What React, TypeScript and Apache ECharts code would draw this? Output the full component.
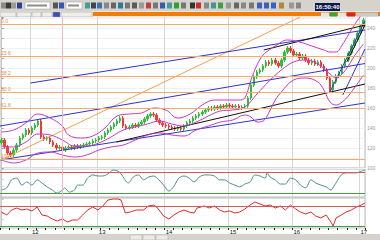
import React, { useEffect, useRef } from "react";
import * as echarts from "echarts";

// ---- data ----
const closes = [
  128, 121, 115, 113, 118, 123, 130, 133, 138, 135, 140, 143, 147, 131, 129, 130, 126, 123, 120, 121,
  118, 120, 121, 120, 122, 121, 122, 123, 124, 125, 127, 128, 130, 131, 135, 138, 141, 144, 147, 150,
  142, 140, 141, 143, 142, 144, 146, 149, 152, 154, 153, 148, 145, 143, 142, 141, 140, 139, 140, 139,
  142, 145, 147, 150, 152, 154, 156, 158, 160, 159, 161, 160, 162, 161, 163, 162, 161, 162, 160, 161,
  162, 170, 183, 191, 196, 198, 202, 206, 204, 208, 205, 202, 208, 216, 220, 217, 213, 214, 210, 212,
  208, 205, 207, 204, 206, 202, 198, 190, 178, 186, 192, 195, 202, 208, 215, 222, 228, 235, 242, 248,
];

const bbUpper = [
  [0, 136], [4, 138], [8, 145], [12, 154], [16, 150], [20, 142], [22, 133], [26, 130], [30, 132], [34, 140],
  [38, 152], [42, 154], [46, 155], [50, 160], [54, 158], [58, 150], [62, 154], [66, 163], [70, 168], [74, 168],
  [78, 168], [80, 170], [82, 188], [84, 203], [86, 213], [88, 218], [90, 222], [94, 228], [98, 226], [102, 222],
  [106, 218], [108, 216], [110, 216], [112, 223], [114, 233], [116, 243], [119, 256],
];
const bbMiddle = [
  [0, 122], [4, 121], [8, 126], [12, 134], [16, 133], [20, 128], [24, 122], [28, 122], [32, 125], [36, 131],
  [40, 138], [44, 141], [48, 144], [52, 147], [56, 144], [60, 142], [64, 146], [68, 152], [72, 157], [76, 158],
  [80, 161], [84, 174], [88, 187], [92, 198], [96, 206], [100, 208], [104, 204], [108, 194], [110, 190], [112, 194],
  [114, 202], [116, 212], [119, 224],
];
const bbLower = [
  [0, 108], [4, 105], [8, 108], [12, 115], [16, 116], [20, 113], [24, 111], [28, 113], [32, 118], [36, 121],
  [40, 123], [44, 128], [48, 133], [52, 135], [56, 133], [60, 132], [64, 138], [68, 142], [72, 146], [76, 148],
  [80, 153], [82, 151], [84, 146], [86, 147], [88, 156], [90, 168], [92, 176], [96, 188], [100, 190], [104, 186],
  [106, 178], [108, 166], [110, 163], [112, 166], [114, 172], [116, 180], [119, 193],
];

const oscA = [
  [0, 30], [1.7, 36], [3.3, 59], [5, 64], [6.7, 44], [8.3, 53], [10, 44], [11.7, 59], [13.3, 50], [15, 39],
  [16.7, 30], [18.3, 21], [20, 30], [20.7, 36], [22.3, 24], [24, 30], [25, 44], [26.7, 44], [28.3, 64], [30, 73],
  [31.7, 70], [33.3, 70], [35, 76], [36.7, 87], [38.3, 84], [39.3, 76], [41.7, 50], [43.3, 67], [45, 73], [46.7, 59],
  [48.3, 67], [50, 70], [51.7, 59], [53.3, 44], [55, 27], [56.7, 41], [58.3, 64], [60, 70], [61.7, 64], [63.3, 53],
  [65, 67], [66.7, 73], [68.3, 73], [70, 70], [71.7, 59], [73.3, 59], [75, 50], [76.7, 44], [78.3, 39], [80, 47],
  [81.7, 53], [83.3, 73], [85, 70], [86.7, 64], [87.3, 79], [88.3, 67], [90, 59], [91.7, 47], [93.3, 47], [95, 64],
  [96.7, 59], [98.3, 44], [100, 36], [101.7, 59], [103.3, 50], [105, 44], [106.7, 39], [108.3, 30], [109.3, 41], [111.7, 73],
  [113.3, 79], [115, 79], [116.7, 79], [118.3, 84], [119.5, 87],
];
const oscB = [
  [0, 63], [1.7, 54], [3.3, 69], [5, 75], [6.7, 69], [8.3, 72], [10, 66], [11.7, 78], [12.3, 69], [13.3, 54],
  [15, 51], [16.7, 42], [18.3, 36], [20, 42], [21.7, 33], [23.3, 39], [25, 39], [26.7, 54], [28.3, 69], [30, 78],
  [31.7, 69], [33.3, 81], [35, 99], [36.7, 102], [38.3, 102], [39.3, 99], [40.7, 60], [42.3, 63], [44.3, 69], [46.7, 69],
  [48.3, 81], [50, 84], [51, 78], [52.3, 63], [53.3, 51], [55, 42], [56.7, 54], [58.3, 63], [60, 69], [61.7, 63],
  [63.3, 60], [64.3, 75], [66.7, 81], [68.3, 75], [70, 81], [71.7, 69], [73.3, 63], [75, 66], [76.7, 60], [78.3, 63],
  [80, 72], [81.7, 84], [83.3, 93], [85, 87], [86.7, 81], [88.3, 84], [90, 75], [91.7, 81], [93.3, 69], [95, 84],
  [96.7, 72], [98.3, 63], [100, 57], [101.7, 63], [103.3, 51], [105, 45], [106.7, 54], [108.3, 33], [109, 21], [110, 45],
  [111.7, 54], [113.3, 63], [115, 69], [116.7, 78], [118.3, 84], [119.5, 90],
];

const fibLevels = [244, 212, 192, 176, 160, 109];
const fibLabels = ["0.0", "23.6", "38.2", "50.0", "61.8", "100.0"];
const yearIndex = [10, 32, 54, 75, 96, 118];
const yearLabels = ["12", "13", "14", "15", "16", "17"];
const blueLines = [
  [[9.5, 185], [119.5, 238]],
  [[-0.5, 142], [119.5, 204.5]],
  [[-0.5, 108], [119.5, 165]],
  [[107.8, 175], [119.5, 247]],
  [[112.2, 173], [119.5, 219]],
];
const blackLines = [
  [[37.8, 126], [119.5, 184]],
  [[86.2, 218], [119.5, 243]],
  [[113.5, 206], [119.5, 243]],
];
const orangeLines = [[[1.2, 110], [98.2, 251]]];
const cursorIndex = 20;
const oscLevels = [80, 20];
const timeText = "16:50:40";

const toolbarIcons: [number, string][] = [
  [1, "#8a8a8a"], [6, "#3a3a3a"], [11, "#9a9a9a"], [17, "#2c3f8c"], [53, "#555"], [59, "#3555b0"],
  [85, "#4a9a9a"], [91, "#444"], [97, "#3a6fb0"], [104, "#888"], [111, "#666"], [118, "#2a7a9a"],
  [125, "#777"], [132, "#5a5a5a"], [139, "#999"], [146, "#c04040"], [153, "#777"], [160, "#3a5ab0"],
  [167, "#40a0a0"], [174, "#30a030"], [181, "#777"], [190, "#333"], [196, "#c03030"], [204, "#888"],
  [211, "#3a9a9a"], [218, "#40a040"], [226, "#999"], [234, "#666"], [241, "#888"], [249, "#777"],
  [257, "#3a60c0"], [264, "#3a60c0"], [271, "#3a60c0"], [279, "#b08a30"], [289, "#999"], [296, "#888"],
];

export default function App() {
  const ref = useRef<HTMLDivElement>(null);
  useEffect(() => {
    if (!ref.current) return;
    const chart = echarts.init(ref.current, undefined, { renderer: "svg" });
    const cats = closes.map((_, i) => String(i));
    const candleData = closes.map((c, i) => {
      const o = i === 0 ? c - 3 : closes[i - 1];
      return [o, c, Math.min(o, c) - 2, Math.max(o, c) + 2];
    });
    const isYear = (i: number) => yearIndex.indexOf(i) >= 0;
    const grids = [
      { left: 0, right: 15, top: 17, height: 151 },
      { left: 0, right: 15, top: 169, height: 28 },
      { left: 0, right: 15, top: 198, height: 30 },
    ].map((g) => ({ ...g, show: true, backgroundColor: "#fff", borderColor: "#b8b8b8", borderWidth: 1 }));

    const catAxis = (gi: number, labels: boolean) => ({
      type: "category",
      gridIndex: gi,
      data: cats,
      boundaryGap: true,
      axisLine: { show: false },
      axisTick: labels
        ? { show: true, interval: (i: number) => i % 3 === 0, length: 2, inside: false, lineStyle: { color: "#222" } }
        : { show: false },
      axisLabel: labels
        ? {
            show: true,
            interval: (i: number) => isYear(i),
            formatter: (_v: string, i: number) => yearLabels[yearIndex.indexOf(i)] ?? "",
            fontSize: 6,
            color: "#111",
            margin: 1,
            align: "left",
          }
        : { show: false },
      splitLine: { show: true, interval: (i: number) => isYear(i), lineStyle: { color: "#d6d6d6", width: 1 } },
    });
    const valAxis = (gi: number) => ({ type: "value", gridIndex: gi, min: -0.5, max: 119.5, show: false });

    const lineSeries = (data: number[][], color: string, width = 1, extra: any = {}) => ({
      type: "line",
      xAxisIndex: 1,
      yAxisIndex: 0,
      data,
      symbol: "none",
      silent: true,
      lineStyle: { color, width },
      ...extra,
    });

    const option: any = {
      animation: false,
      textStyle: { fontFamily: "Liberation Sans, DejaVu Sans, sans-serif" },
      grid: grids,
      xAxis: [catAxis(0, false), valAxis(0), catAxis(1, false), valAxis(1), catAxis(2, true), valAxis(2)],
      yAxis: [
        {
          type: "value", gridIndex: 0, min: 100, max: 251, interval: 10, position: "right",
          axisLine: { show: true, lineStyle: { color: "#c8c8c8" } },
          axisTick: { show: true, length: 2, lineStyle: { color: "#999" } },
          axisLabel: { show: true, fontSize: 5, color: "#999", margin: 2, formatter: (v: number) => (v % 20 === 0 ? String(v) : "") },
          splitLine: { show: true, lineStyle: { color: "#f1f1f1" } },
        },
        {
          type: "value", gridIndex: 1, min: 10, max: 90, position: "right",
          axisLine: { show: true, lineStyle: { color: "#c8c8c8" } }, axisTick: { show: true, length: 2 },
          axisLabel: { show: false }, splitLine: { show: false },
        },
        {
          type: "value", gridIndex: 2, min: 15, max: 105, position: "right",
          axisLine: { show: true, lineStyle: { color: "#c8c8c8" } }, axisTick: { show: true, length: 2 },
          axisLabel: { show: false }, splitLine: { show: false },
        },
      ],
      series: [
        {
          type: "candlestick",
          xAxisIndex: 0,
          yAxisIndex: 0,
          data: candleData,
          barWidth: 2,
          itemStyle: { color: "#2fbf3a", color0: "#f03a3a", borderColor: "#2fbf3a", borderColor0: "#f03a3a", borderWidth: 1 },
          markLine: {
            silent: true,
            symbol: ["none", "none"],
            lineStyle: { color: "#f3ab6c", type: "solid", width: 1 },
            label: { show: true, position: "insideStartTop", fontSize: 5, color: "#e08a40", distance: 1 },
            data: fibLevels.map((p, i) => ({ yAxis: p, label: { formatter: fibLabels[i] } })),
          },
        },
        ...orangeLines.map((d) => lineSeries(d, "#f2a050")),
        ...blueLines.map((d) => lineSeries(d, "#2f34c8")),
        ...blackLines.map((d) => lineSeries(d, "#111111")),
        lineSeries(bbUpper, "#c43ac4", 1, { smooth: 0.4 }),
        lineSeries(bbLower, "#c43ac4", 1, { smooth: 0.4 }),
        lineSeries(bbMiddle, "#c43ac4", 1, {
          smooth: 0.4,
          markLine: {
            silent: true, symbol: ["none", "none"], label: { show: false },
            lineStyle: { color: "#f2b6cf", type: "solid", width: 1 },
            data: [{ xAxis: cursorIndex }],
          },
        }),
        {
          type: "line", xAxisIndex: 3, yAxisIndex: 1, data: oscA, symbol: "none", smooth: 0.3, silent: true,
          lineStyle: { color: "#4f8e8e", width: 1 },
          markLine: {
            silent: true, symbol: ["none", "none"], label: { show: false },
            data: [
              { yAxis: oscLevels[0], lineStyle: { color: "#d05a5a", type: "solid", width: 1 } },
              { yAxis: oscLevels[1], lineStyle: { color: "#3f9f3f", type: "solid", width: 1 } },
              { xAxis: cursorIndex, lineStyle: { color: "#f2b6cf", type: "solid", width: 1 } },
            ],
          },
        },
        {
          type: "line", xAxisIndex: 5, yAxisIndex: 2, data: oscB, symbol: "none", silent: true,
          lineStyle: { color: "#e02a2a", width: 1 },
          markLine: {
            silent: true, symbol: ["none", "none"], label: { show: false },
            data: [
              { yAxis: oscLevels[0], lineStyle: { color: "#d05a5a", type: "solid", width: 1 } },
              { yAxis: oscLevels[1], lineStyle: { color: "#3f9f3f", type: "solid", width: 1 } },
              { xAxis: cursorIndex, lineStyle: { color: "#f2b6cf", type: "solid", width: 1 } },
            ],
          },
        },
      ],
      graphic: [
        { type: "rect", shape: { x: 0, y: 0, width: 380, height: 11 }, style: { fill: "#d6d3cc" }, silent: true },
        { type: "rect", shape: { x: 0, y: 11, width: 380, height: 6 }, style: { fill: "#e9e7e1" }, silent: true },
        { type: "rect", shape: { x: 25, y: 2, width: 25, height: 7 }, style: { fill: "#fff", stroke: "#999", lineWidth: 0.5 }, silent: true },
        { type: "rect", shape: { x: 66, y: 2, width: 16, height: 7 }, style: { fill: "#fff", stroke: "#999", lineWidth: 0.5 }, silent: true },
        { type: "rect", shape: { x: 27, y: 4.5, width: 20, height: 2 }, style: { fill: "#8a8a8a" }, silent: true },
        { type: "rect", shape: { x: 68, y: 4.5, width: 11, height: 2 }, style: { fill: "#8a8a8a" }, silent: true },
        ...toolbarIcons.map(([x, c]) => ({
          type: "rect", shape: { x, y: 2.5, width: 5, height: 6 }, style: { fill: c }, silent: true,
        })),
        ...[[0, 16], [17, 14], [32, 9], [42, 10], [53, 7], [61, 31]].map(([x, w], i) => ({
          type: "rect", shape: { x, y: 12, width: w, height: 5 },
          style: { fill: i === 4 ? "#3f4fb5" : "#efeee9", stroke: "#9a9a9a", lineWidth: 0.5 }, silent: true,
        })),
        { type: "rect", shape: { x: 93, y: 12, width: 287, height: 4 }, style: { fill: "#ef7d0a" }, silent: true },
        { type: "rect", shape: { x: 321, y: 12.5, width: 8, height: 4 }, style: { fill: "#dfe8f2" }, silent: true },
        { type: "rect", shape: { x: 330, y: 12.5, width: 7, height: 4 }, style: { fill: "#34a834" }, silent: true },
        { type: "rect", shape: { x: 338, y: 12.5, width: 8, height: 4 }, style: { fill: "#e4e4e4" }, silent: true },
        { type: "rect", shape: { x: 347, y: 12.5, width: 8, height: 4 }, style: { fill: "#d82424" }, silent: true },
        { type: "rect", shape: { x: 356, y: 12.5, width: 22, height: 4 }, style: { fill: "#c9c9c9" }, silent: true },
        { type: "rect", shape: { x: 315, y: 3, width: 25, height: 8 }, style: { fill: "#0b1a4c" }, silent: true },
        {
          type: "text", x: 327.5, y: 7.2, silent: true,
          style: { text: timeText, fill: "#ffffff", fontSize: 6, fontWeight: "bold", align: "center", verticalAlign: "middle" },
        },
        { type: "rect", shape: { x: 0, y: 234, width: 380, height: 6 }, style: { fill: "#d6d3cc" }, silent: true },
        { type: "rect", shape: { x: 130, y: 235, width: 12, height: 5 }, style: { fill: "#eceae4", stroke: "#aaa", lineWidth: 0.5 }, silent: true },
        { type: "rect", shape: { x: 143, y: 235, width: 12, height: 5 }, style: { fill: "#eceae4", stroke: "#aaa", lineWidth: 0.5 }, silent: true },
        { type: "rect", shape: { x: 156, y: 235, width: 12, height: 5 }, style: { fill: "#eceae4", stroke: "#aaa", lineWidth: 0.5 }, silent: true },
      ],
    };
    chart.setOption(option);
    return () => chart.dispose();
  }, []);
  return (
    <div
      ref={ref}
      style={{ position: "fixed", left: 0, top: 0, width: 380, height: 240, background: "#ffffff" }}
    />
  );
}
